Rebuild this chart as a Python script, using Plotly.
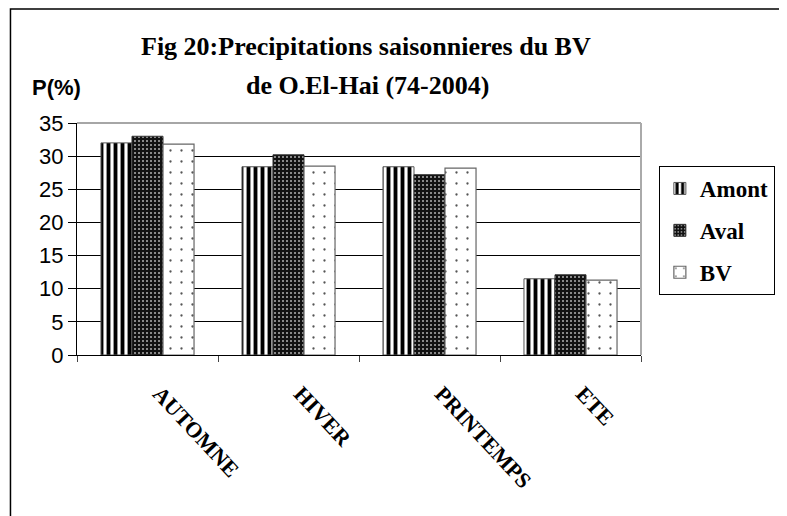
import plotly.graph_objects as go

categories = ["AUTOMNE", "HIVER", "PRINTEMPS", "ETE"]
amont = [32.0, 28.4, 28.4, 11.5]
aval = [33.0, 30.2, 27.2, 12.1]
bv = [31.8, 28.5, 28.2, 11.3]
y_ticks = [0, 5, 10, 15, 20, 25, 30, 35]

# page pixel layout (the page body has an 8px margin)
OFF = 8
W, H = 787 - OFF, 516 - OFF
L, R, T, B = 77, 645, 123, 355
pw, ph = R - L, B - T

def px(x):
    return (x - L) / pw

def py(y):
    return (B - y) / ph

serif = "Liberation Serif, Times New Roman, serif"
sans = "Liberation Sans, Arial, sans-serif"

fig = go.Figure()
fig.add_trace(go.Bar(
    name="Amont", x=categories, y=amont, legendgroup="a",
    marker=dict(color="white", line=dict(color="#555", width=1),
                pattern=dict(shape="|", size=7, solidity=0.55,
                             fgcolor="black", bgcolor="white", fillmode="replace")),
))
fig.add_trace(go.Bar(
    name="Aval", x=categories, y=aval, legendgroup="b",
    marker=dict(color="black", line=dict(color="#333", width=1),
                pattern=dict(shape=".", size=4, solidity=0.2,
                             fgcolor="#b0b0b0", bgcolor="#111", fillmode="replace")),
))
fig.add_trace(go.Bar(
    name="BV", x=categories, y=bv, legendgroup="c",
    marker=dict(color="white", line=dict(color="#666", width=1.2),
                pattern=dict(shape=".", size=11, solidity=0.035,
                             fgcolor="#555", bgcolor="white", fillmode="replace")),
))

fig.update_layout(
    width=W, height=H,
    margin=dict(l=L - OFF, r=787 - R, t=T - OFF, b=516 - B, pad=0),
    paper_bgcolor="white", plot_bgcolor="white",
    barmode="group", bargap=0.34, bargroupgap=0,
    showlegend=True,
    legend=dict(x=px(663), y=py(166), xanchor="left", yanchor="top",
                bordercolor="black", borderwidth=1, bgcolor="white",
                font=dict(family=serif, size=23, color="black", weight="bold"),
                tracegroupgap=9, itemwidth=30),
    xaxis=dict(type="category", showline=True, linecolor="black", linewidth=1,
               tickson="boundaries", ticks="outside", ticklen=6, tickcolor="#444",
               tickangle=47, showgrid=False, ticklabelstandoff=16, ticklabelshift=12,
               tickfont=dict(family=serif, size=22, color="black", weight="bold")),
    yaxis=dict(range=[0, 35], tickvals=y_ticks, showline=True, linecolor="black", linewidth=1,
               ticks="outside", ticklen=8, tickcolor="black",
               showgrid=True, gridcolor="black", gridwidth=1, zeroline=False,
               tickfont=dict(family=sans, size=22, color="black")),
    font=dict(family=sans, color="black"),
)

shapes = [
    # outer chart border
    dict(type="rect", xref="paper", yref="paper", x0=px(10), x1=px(786), y0=py(540), y1=py(9),
         line=dict(color="black", width=1.5), fillcolor="rgba(0,0,0,0)", layer="below"),
    # plot area top and right border
    dict(type="line", xref="paper", yref="paper", x0=0, x1=1, y0=1, y1=1,
         line=dict(color="#888", width=1.5)),
    dict(type="line", xref="paper", yref="paper", x0=1, x1=1, y0=0, y1=1,
         line=dict(color="#aaa", width=2)),
]
fig.update_layout(shapes=shapes)

fig.add_annotation(text="<b>Fig 20:Precipitations saisonnieres du BV</b>", xref="paper", yref="paper",
                   x=px(368), y=py(47), showarrow=False, xanchor="center", yanchor="middle",
                   font=dict(family=serif, size=26, color="black"))
fig.add_annotation(text="<b>de O.El-Hai (74-2004)</b>", xref="paper", yref="paper",
                   x=px(370), y=py(86), showarrow=False, xanchor="center", yanchor="middle",
                   font=dict(family=serif, size=26, color="black"))
fig.add_annotation(text="<b>P(%)</b>", xref="paper", yref="paper",
                   x=px(30), y=py(88), showarrow=False, xanchor="left", yanchor="middle",
                   font=dict(family=sans, size=22, color="black"))

fig.write_html("out.html")
